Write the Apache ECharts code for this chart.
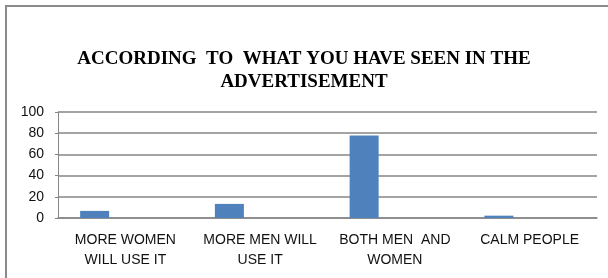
<!DOCTYPE html>
<html>
<head>
<meta charset="utf-8">
<script src="https://cdn.jsdelivr.net/npm/echarts@6/dist/echarts.min.js"></script>
<style>html,body{margin:0;padding:0;background:#fff;}#c{width:608px;height:278px;}</style>
</head>
<body>
<div id="c"></div>
<script>
const titleText = "ACCORDING  TO  WHAT YOU HAVE SEEN IN THE\nADVERTISEMENT";
const categories = ["MORE WOMEN\nWILL USE IT", "MORE MEN WILL\nUSE IT", "BOTH MEN  AND\nWOMEN", "CALM PEOPLE"];
const seriesValues = [6.7, 13.3, 77.8, 2.2];
const emptySeries = [null, null, null, null];
const yTicks = {min: 0, max: 100, interval: 20};

const chart = echarts.init(document.getElementById('c'), null, {renderer: 'canvas'});
chart.setOption({
  animation: false,
  backgroundColor: '#ffffff',
  title: {
    text: titleText,
    left: 'center',
    top: 48,
    padding: 0,
    textStyle: {
      fontFamily: 'Liberation Serif',
      fontWeight: 'bold',
      fontSize: 19,
      lineHeight: 23,
      color: '#000000',
      align: 'center'
    }
  },
  graphic: [{
    type: 'rect',
    shape: {x: 6, y: 6, width: 640, height: 320},
    style: {fill: 'none', stroke: '#8a8a8a', lineWidth: 2},
    silent: true,
    z: -1
  }],
  grid: {left: 58, right: 11, top: 112, bottom: 60},
  xAxis: {
    type: 'category',
    data: categories,
    axisLine: {show: true, lineStyle: {color: '#868686', width: 1.5}},
    axisTick: {show: false},
    axisLabel: {
      interval: 0,
      margin: 12,
      fontFamily: 'Liberation Sans',
      fontSize: 14,
      lineHeight: 20,
      color: '#111111'
    }
  },
  yAxis: {
    type: 'value',
    min: yTicks.min,
    max: yTicks.max,
    interval: yTicks.interval,
    axisLine: {show: true, lineStyle: {color: '#868686', width: 1}},
    axisTick: {show: true, length: 3, lineStyle: {color: '#868686'}},
    splitLine: {show: true, lineStyle: {color: '#868686', width: 1.5}},
    axisLabel: {
      margin: 14,
      fontFamily: 'Liberation Sans',
      fontSize: 14,
      color: '#111111'
    }
  },
  series: [
    {
      type: 'bar',
      data: seriesValues,
      barWidth: 29,
      barGap: '112%',
      itemStyle: {color: '#4f81bd'}
    },
    {
      type: 'bar',
      data: emptySeries,
      barWidth: 29,
      itemStyle: {color: '#c0504d'}
    }
  ]
});
</script>
</body>
</html>
